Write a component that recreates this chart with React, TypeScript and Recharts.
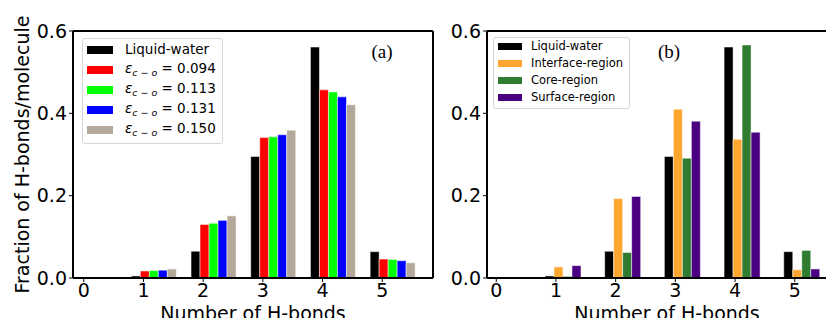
import React from 'react';
import {
  BarChart,
  Bar,
  XAxis,
  YAxis,
  Legend,
  ReferenceLine,
} from 'recharts';

// number of H-bonds per molecule (x categories)
const hbonds = [0, 1, 2, 3, 4, 5];
const yTicks = [0, 0.2, 0.4, 0.6];

// panel (a)
const liquidWater = [0, 0.005, 0.065, 0.295, 0.561, 0.064];
const eps094 = [0, 0.017, 0.13, 0.341, 0.457, 0.046];
const eps113 = [0, 0.018, 0.133, 0.343, 0.452, 0.045];
const eps131 = [0, 0.019, 0.14, 0.348, 0.44, 0.042];
const eps150 = [0, 0.022, 0.151, 0.359, 0.421, 0.037];
const epsLabels = ['0.094', '0.113', '0.131', '0.150'];

// panel (b)
const interfaceRegion = [0, 0.027, 0.193, 0.41, 0.337, 0.02];
const coreRegion = [0, 0.004, 0.062, 0.291, 0.566, 0.067];
const surfaceRegion = [0, 0.03, 0.198, 0.381, 0.354, 0.022];

const FONT = '"DejaVu Sans", sans-serif';

const seriesA = [
  { key: 'water', name: 'Liquid-water', color: '#000000', values: liquidWater },
  { key: 'e094', name: epsLabels[0], color: '#ff0000', values: eps094 },
  { key: 'e113', name: epsLabels[1], color: '#00ff00', values: eps113 },
  { key: 'e131', name: epsLabels[2], color: '#0000ff', values: eps131 },
  { key: 'e150', name: epsLabels[3], color: '#b4a89a', values: eps150 },
];

const seriesB = [
  { key: 'water', name: 'Liquid-water', color: '#000000', values: liquidWater },
  { key: 'iface', name: 'Interface-region', color: '#ffa630', values: interfaceRegion },
  { key: 'core', name: 'Core-region', color: '#2f7b30', values: coreRegion },
  { key: 'surf', name: 'Surface-region', color: '#4b0082', values: surfaceRegion },
];

// group of bars starts just left of the integer tick, like the matplotlib original
const buildRows = (series: typeof seriesA, shift: number) =>
  hbonds.map((n, i) => {
    const row: Record<string, number> = { n, pos: n + shift };
    series.forEach((s) => {
      row[s.key] = s.values[i];
    });
    return row;
  });

const rowsA = buildRows(seriesA, 0.18);
const rowsB = buildRows(seriesB, 0.115);

const EpsLabel = ({ value }: { value: string }) => (
  <span>
    <i style={{ fontFamily: FONT }}>ε</i>
    <sub style={{ fontSize: '0.7em', fontStyle: 'italic', verticalAlign: '-0.3em' }}>
      c − o
    </sub>
    <span> = {value}</span>
  </span>
);

const makeLegend =
  (
    series: typeof seriesA,
    opts: { fontSize: number; row: number; swatchW: number; swatchH: number; gap: number; pad: string }
  ) =>
  () => (
    <div
      style={{
        background: 'rgba(255,255,255,0.85)',
        border: '1px solid #d6d6d6',
        borderRadius: 3,
        padding: opts.pad,
        fontFamily: FONT,
        fontSize: opts.fontSize,
        color: '#000',
        lineHeight: 1,
      }}
    >
      {series.map((s) => (
        <div key={s.key} style={{ display: 'flex', alignItems: 'center', height: opts.row, whiteSpace: 'nowrap' }}>
          <span
            style={{
              display: 'inline-block',
              width: opts.swatchW,
              height: opts.swatchH,
              background: s.color,
              marginRight: opts.gap,
            }}
          />
          {s.key.startsWith('e') ? <EpsLabel value={s.name} /> : s.name}
        </div>
      ))}
    </div>
  );

const legendA = makeLegend(seriesA, { fontSize: 13.5, row: 20, swatchW: 26, swatchH: 8, gap: 12, pad: '1px 6px 3px 4px' });
const legendB = makeLegend(seriesB, { fontSize: 11.5, row: 17, swatchW: 24, swatchH: 7, gap: 9, pad: '0px 6px 2px 4px' });

const tickStyle = { fontSize: 19, fill: '#000', fontFamily: FONT };

const Panel = ({
  rows,
  series,
  domain,
  width,
  marginLeft,
  axisWidth,
  yLabel,
  tag,
  tagX,
  legend,
  legendPos,
}: any) => (
  <BarChart
    width={width}
    height={326}
    data={rows}
    margin={{ top: 31, right: 3, bottom: 0, left: marginLeft }}
    barGap={0}
    style={{ fontFamily: FONT }}
  >
    <XAxis
      type="number"
      dataKey="pos"
      domain={domain}
      allowDataOverflow
      ticks={hbonds}
      tickFormatter={(v: number) => String(Math.round(v))}
      height={48}
      tick={tickStyle}
      tickSize={4}
      tickMargin={2}
      axisLine={{ stroke: '#000', strokeWidth: 2 }}
      tickLine={{ stroke: '#000' }}
      label={{ value: 'Number of H-bonds', position: 'insideBottom', offset: 6, style: { fontSize: 19, fill: '#000', fontFamily: FONT } }}
    />
    <YAxis
      domain={[0, 0.6]}
      ticks={yTicks}
      allowDataOverflow
      width={axisWidth}
      tick={tickStyle}
      tickSize={4}
      tickMargin={2}
      tickFormatter={(v: number) => v.toFixed(1)}
      axisLine={{ stroke: '#000', strokeWidth: 2 }}
      tickLine={{ stroke: '#000' }}
      label={
        yLabel
          ? {
              value: yLabel,
              angle: -90,
              position: 'insideLeft',
              offset: 5,
              style: { fontSize: 19, fill: '#000', fontFamily: FONT, textAnchor: 'middle' },
            }
          : undefined
      }
    />
    <ReferenceLine y={0.6} stroke="#000" strokeWidth={2} />
    <ReferenceLine x={domain[1]} stroke="#000" strokeWidth={2} />
    <Legend
      layout="vertical"
      align="center"
      verticalAlign="middle"
      content={legend}
      wrapperStyle={{ left: legendPos[0], top: legendPos[1], width: 'auto' }}
    />
    {series.map((s: any) => (
      <Bar
        key={s.key}
        dataKey={s.key}
        name={s.name}
        fill={s.color}
        stroke="#ffffff"
        strokeWidth={0.5}
        barSize={9}
        isAnimationActive={false}
      />
    ))}
    <text x={tagX} y={58} textAnchor="middle" fontFamily='"Liberation Serif", "Times New Roman", serif' fontSize={19} fill="#000">
      {tag}
    </text>
  </BarChart>
);

export default function App() {
  return (
    <div style={{ position: 'relative', width: 834, height: 326, margin: -8, overflow: 'hidden', background: '#fff' }}>
      <div style={{ position: 'absolute', left: 0, top: 0 }}>
        <Panel
          rows={rowsA}
          series={seriesA}
          domain={[-0.18, 5.85]}
          width={436}
          marginLeft={17}
          axisWidth={56}
          yLabel="Fraction of H-bonds/molecule"
          tag="(a)"
          tagX={382}
          legend={legendA}
          legendPos={[82, 38]}
        />
      </div>
      <div style={{ position: 'absolute', left: 410, top: 0 }}>
        <Panel
          rows={rowsB}
          series={seriesB}
          domain={[-0.155, 5.875]}
          width={440}
          marginLeft={27}
          axisWidth={50}
          tag="(b)"
          tagX={259}
          legend={legendB}
          legendPos={[83, 37]}
        />
      </div>
    </div>
  );
}
